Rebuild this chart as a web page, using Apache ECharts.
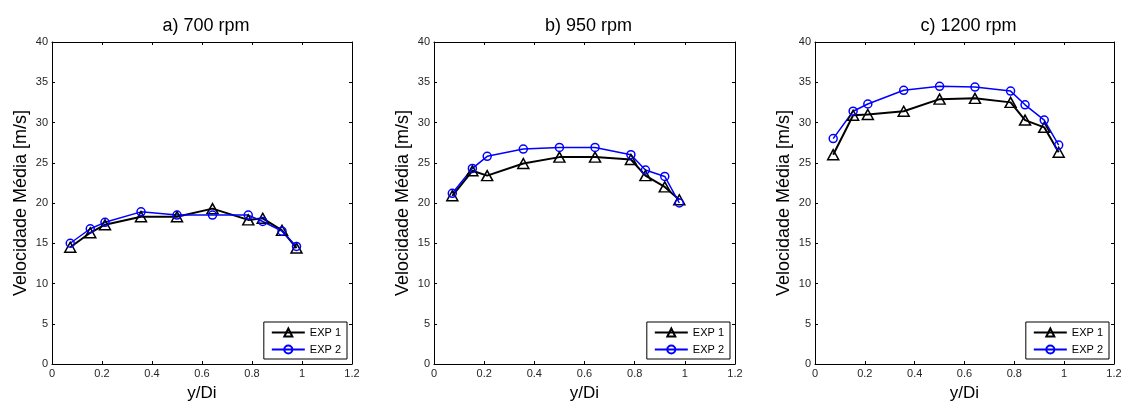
<!DOCTYPE html>
<html>
<head>
<meta charset="utf-8">
<script src="https://cdn.jsdelivr.net/npm/echarts@6/dist/echarts.min.js"></script>
<style>
html,body{margin:0;padding:0;background:#fff;}
#c{width:1121px;height:403px;}
</style>
</head>
<body>
<div id="c"></div>
<script>
// ---- data ----
const xPos = [0.073, 0.153, 0.212, 0.356, 0.5, 0.642, 0.785, 0.843, 0.92, 0.978];
const panelTitles = ['a) 700 rpm', 'b) 950 rpm', 'c) 1200 rpm'];
const seriesNames = ['EXP 1', 'EXP 2'];
const exp1_700 = [14.5, 16.3, 17.3, 18.3, 18.3, 19.3, 17.9, 18.1, 16.6, 14.4];
const exp2_700 = [15.0, 16.8, 17.6, 18.9, 18.5, 18.5, 18.5, 17.7, 16.5, 14.6];
const exp1_950 = [20.9, 24.0, 23.4, 24.9, 25.7, 25.7, 25.4, 23.4, 22.0, 20.4];
const exp2_950 = [21.2, 24.3, 25.8, 26.7, 26.9, 26.9, 26.0, 24.1, 23.3, 20.0];
const exp1_1200 = [26.0, 30.9, 31.0, 31.4, 32.9, 33.0, 32.5, 30.3, 29.4, 26.3];
const exp2_1200 = [28.0, 31.4, 32.3, 34.0, 34.5, 34.4, 33.9, 32.2, 30.3, 27.2];
const xTicks = ['0', '0.2', '0.4', '0.6', '0.8', '1', '1.2'];
const yLabel = 'Velocidade Média [m/s]';
const xLabel = 'y/Di';

const panels = [
  [exp1_700, exp2_700],
  [exp1_950, exp2_950],
  [exp1_1200, exp2_1200]
];

// ---- layout ----
const FONT = 'Liberation Sans, Arial, Helvetica, sans-serif';
const grids = [
  {left: 52, top: 42, width: 300, height: 322},
  {left: 434, top: 42, width: 301, height: 322},
  {left: 815, top: 42, width: 299, height: 322}
];

const option = {
  backgroundColor: '#fff',
  animation: false,
  textStyle: {fontFamily: FONT},
  title: [],
  legend: [],
  grid: [],
  xAxis: [],
  yAxis: [],
  series: []
};

const tickLabel = {color: '#262626', fontSize: 11, fontFamily: FONT};
const lineAx = () => ({show: true, onZero: false, lineStyle: {color: '#000', width: 1}});
const ticks = () => ({show: true, inside: true, length: 3, lineStyle: {color: '#000'}});

grids.forEach((g, i) => {
  option.grid.push({left: g.left, top: g.top, width: g.width, height: g.height,
    containLabel: false, outerBoundsMode: 'none'});
  option.title.push({
    text: panelTitles[i],
    left: g.left + g.width / 2 - 1,
    top: 12,
    textAlign: 'center',
    textStyle: {fontSize: 18, fontWeight: 'normal', color: '#000', fontFamily: FONT}
  });
  // bottom x
  option.xAxis.push({
    type: 'value', gridIndex: i, min: 0, max: 1.2, interval: 0.2, position: 'bottom',
    name: xLabel, nameLocation: 'middle', nameGap: 21,
    nameTextStyle: {fontSize: 17, color: '#000', fontFamily: FONT},
    axisLine: lineAx(),
    axisTick: ticks(),
    axisLabel: Object.assign({margin: 4, formatter: (v) => xTicks[Math.round(v / 0.2)]}, tickLabel),
    splitLine: {show: false}
  });
  // top x (frame)
  option.xAxis.push({
    type: 'value', gridIndex: i, min: 0, max: 1.2, interval: 0.2, position: 'top',
    axisLine: lineAx(),
    axisTick: ticks(),
    axisLabel: {show: false},
    splitLine: {show: false}
  });
  // left y
  option.yAxis.push({
    type: 'value', gridIndex: i, min: 0, max: 40, interval: 5, position: 'left',
    name: yLabel, nameLocation: 'middle', nameGap: 22,
    nameTextStyle: {fontSize: 18, color: '#000', fontFamily: FONT},
    axisLine: lineAx(),
    axisTick: ticks(),
    axisLabel: Object.assign({margin: 4}, tickLabel),
    splitLine: {show: false}
  });
  // right y (frame)
  option.yAxis.push({
    type: 'value', gridIndex: i, min: 0, max: 40, interval: 5, position: 'right',
    axisLine: lineAx(),
    axisTick: ticks(),
    axisLabel: {show: false},
    splitLine: {show: false}
  });

  option.legend.push({
    data: seriesNames,
    orient: 'vertical',
    right: 1121 - (g.left + g.width - 5),
    bottom: 403 - (g.top + g.height - 5),
    backgroundColor: '#fff',
    borderColor: '#000',
    borderWidth: 1,
    borderRadius: 0,
    padding: [5, 6, 4, 7],
    itemWidth: 33,
    itemHeight: 10,
    itemGap: 6,
    selectedMode: false,
    textStyle: {fontSize: 11, color: '#000', fontFamily: FONT}
  });

  const [e1, e2] = panels[i];
  option.series.push({
    name: seriesNames[0], type: 'line', xAxisIndex: 2 * i, yAxisIndex: 2 * i,
    data: xPos.map((x, k) => [x, e1[k]]),
    symbol: 'triangle', symbolSize: [11, 10],
    lineStyle: {color: '#000', width: 2},
    itemStyle: {color: 'rgba(0,0,0,0)', borderColor: '#000', borderWidth: 1.5},
    emphasis: {disabled: true}
  });
  option.series.push({
    name: seriesNames[1], type: 'line', xAxisIndex: 2 * i, yAxisIndex: 2 * i,
    data: xPos.map((x, k) => [x, e2[k]]),
    symbol: 'circle', symbolSize: 8,
    lineStyle: {color: '#0000ff', width: 1.5},
    itemStyle: {color: 'rgba(0,0,0,0)', borderColor: '#0000ff', borderWidth: 1.5},
    emphasis: {disabled: true}
  });
});

const chart = echarts.init(document.getElementById('c'), null, {renderer: 'canvas'});
chart.setOption(option);
</script>
</body>
</html>
